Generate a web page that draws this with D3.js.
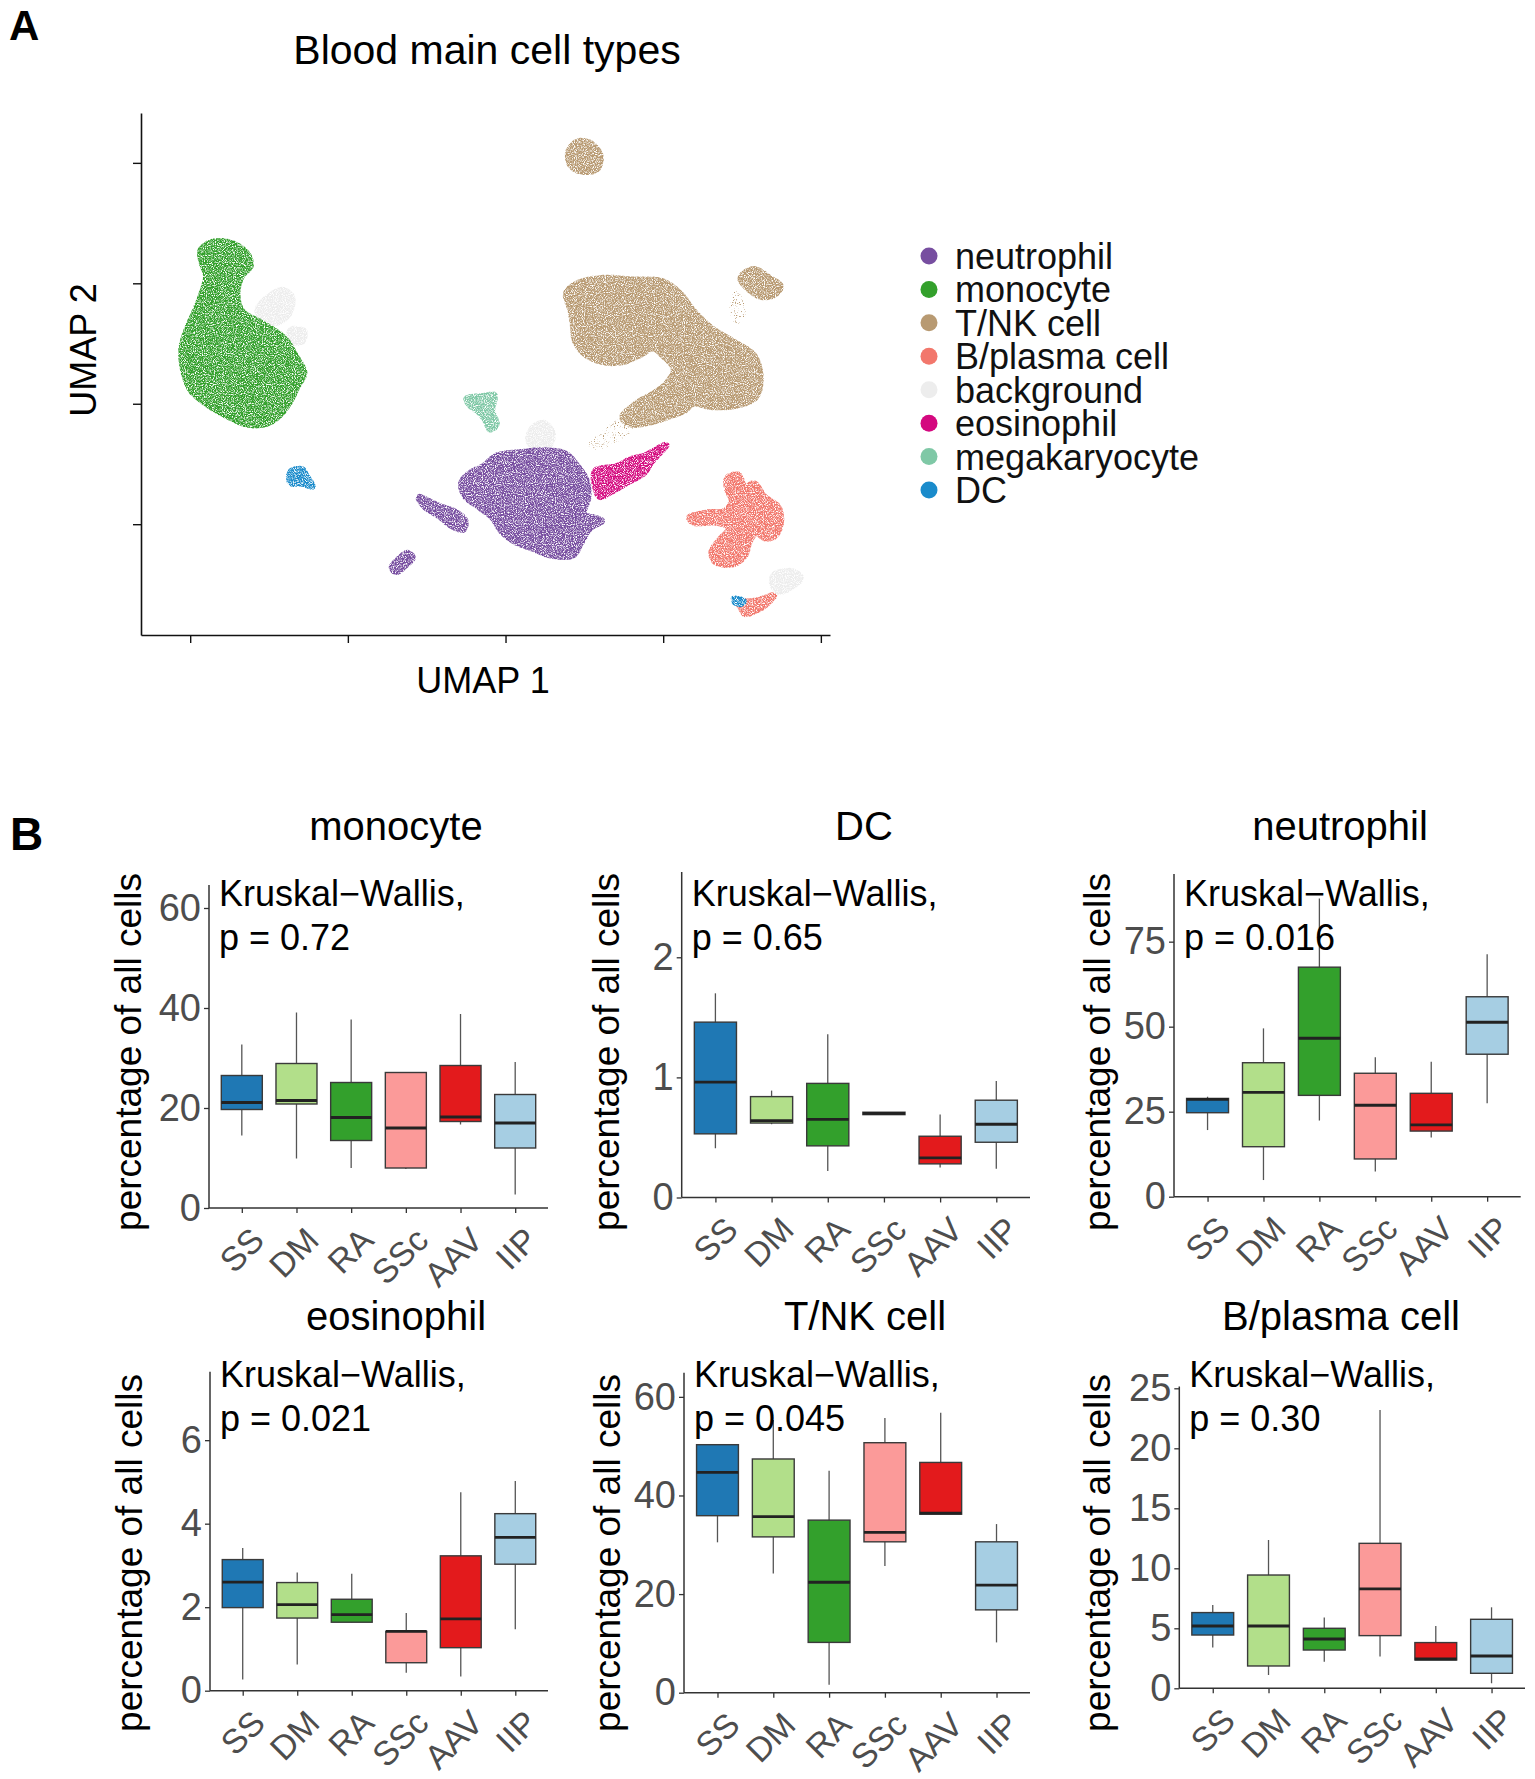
<!DOCTYPE html>
<html><head><meta charset="utf-8">
<script src="https://cdn.jsdelivr.net/npm/d3@7"></script>
<style>
body{margin:0;background:#fff}
text{font-family:"Liberation Sans",Arial,Helvetica,sans-serif}
</style>
</head><body>
<svg id="fig" width="1535" height="1779"></svg>
<script>
// ---------------- DATA ----------------
// Panel A: UMAP cluster outlines (UMAP units)
const cellTypes = ["neutrophil","monocyte","T/NK cell","B/plasma cell","background","eosinophil","megakaryocyte","DC"];
const cellColors = ["#774ea0","#33a02c","#b89a72","#f2776c","#ededed","#d4087f","#7fc8a6","#1a8bcb"];
const umapXTicks = [-5,0,5,10,15];
const umapYTicks = [-5,0,5,10];
const umapClusters = [
  {type:"background", pts:[[-2.65,4.30],[-2.09,4.73],[-1.77,4.44],[-1.87,3.72],[-2.23,3.37],[-2.65,3.44],[-2.87,3.87]]},
  {type:"background", pts:[[-1.80,3.08],[-1.38,3.01],[-1.45,2.58],[-1.87,2.58]]},
  {type:"monocyte", pts:[[-4.28,6.73],[-3.65,6.66],[-3.19,6.23],[-3.08,5.73],[-3.36,5.30],[-3.50,4.58],[-3.36,3.87],[-2.65,3.30],[-2.01,2.72],[-1.66,2.01],[-1.38,1.29],[-1.59,0.72],[-1.87,0.00],[-2.23,-0.57],[-2.65,-0.86],[-3.22,-0.86],[-3.86,-0.50],[-4.50,0.00],[-4.99,0.57],[-5.23,1.43],[-5.28,2.29],[-5.13,3.01],[-4.85,3.87],[-4.64,4.58],[-4.50,5.30],[-4.64,5.87],[-4.67,6.38]]},
  {type:"T/NK cell", pts:[[7.28,10.89],[7.70,10.82],[8.01,10.32],[7.91,9.74],[7.42,9.63],[7.06,9.89],[6.99,10.46]]},
  {type:"T/NK cell", pts:[[6.92,4.58],[7.28,5.01],[8.13,5.23],[8.98,5.16],[9.97,5.09],[10.54,4.58],[10.96,3.87],[11.53,3.15],[12.24,2.58],[12.88,2.01],[13.09,1.15],[12.95,0.29],[12.38,-0.07],[11.53,-0.14],[10.96,0.00],[10.68,-0.29],[10.11,-0.57],[9.55,-0.79],[8.98,-0.86],[8.70,-0.57],[9.12,0.00],[9.69,0.43],[10.11,0.86],[10.33,1.43],[9.97,2.01],[9.69,2.29],[9.26,2.01],[8.70,1.72],[8.13,1.72],[7.56,2.01],[7.21,2.58],[7.13,3.30],[7.06,3.87]]},
  {type:"T/NK cell", pts:[[12.52,5.37],[12.88,5.59],[13.38,5.23],[13.73,4.87],[13.52,4.51],[13.09,4.44],[12.67,4.80],[12.45,5.16]]},
  {type:"megakaryocyte", pts:[[3.76,0.21],[4.30,0.32],[4.65,0.36],[4.58,-0.29],[4.72,-0.86],[4.51,-1.07],[4.37,-0.72],[4.16,-0.36],[3.87,-0.07]]},
  {type:"background", pts:[[5.86,-1.00],[6.21,-0.79],[6.50,-1.22],[6.35,-1.79],[5.93,-1.86],[5.72,-1.50]]},
  {type:"neutrophil", pts:[[4.72,-2.15],[5.43,-2.01],[6.28,-1.93],[6.92,-2.08],[7.28,-2.58],[7.56,-3.15],[7.63,-3.87],[7.49,-4.58],[7.84,-4.73],[8.06,-4.87],[7.70,-5.16],[7.42,-5.73],[7.13,-6.30],[6.43,-6.30],[5.86,-6.02],[5.29,-5.73],[4.87,-5.30],[4.58,-4.73],[4.16,-4.30],[3.73,-3.87],[3.59,-3.30],[3.87,-2.87],[4.30,-2.58]]},
  {type:"neutrophil", pts:[[2.24,-3.87],[2.88,-4.23],[3.45,-4.51],[3.73,-4.87],[3.66,-5.23],[3.30,-5.09],[2.88,-4.66],[2.45,-4.30]]},
  {type:"neutrophil", pts:[[1.89,-6.19],[2.06,-6.38],[1.82,-6.73],[1.53,-6.99],[1.39,-6.81],[1.60,-6.45]]},
  {type:"eosinophil", pts:[[7.84,-2.79],[8.55,-2.58],[8.98,-2.29],[9.40,-2.15],[10.11,-1.69],[9.62,-2.44],[9.40,-2.87],[8.84,-3.30],[8.27,-3.72],[7.99,-3.87],[7.84,-3.44]]},
  {type:"DC", pts:[[-1.80,-2.79],[-1.45,-2.72],[-1.30,-3.01],[-1.12,-3.44],[-1.45,-3.32],[-1.80,-3.30],[-1.87,-3.08]]},
  {type:"background", pts:[[13.52,-7.09],[14.09,-6.95],[14.37,-7.23],[14.09,-7.59],[13.66,-7.81],[13.45,-7.45]]},
  {type:"B/plasma cell", pts:[[12.03,-3.08],[12.38,-2.94],[12.60,-3.44],[12.88,-3.30],[13.23,-3.87],[13.66,-4.30],[13.73,-5.01],[13.52,-5.52],[13.23,-5.59],[12.95,-5.37],[12.74,-5.73],[12.60,-6.30],[12.24,-6.66],[11.67,-6.59],[11.53,-6.16],[11.82,-5.59],[12.10,-5.16],[11.67,-4.94],[10.96,-4.94],[10.82,-4.73],[11.39,-4.51],[11.96,-4.44],[12.17,-4.01],[12.03,-3.58]]},
  {type:"B/plasma cell", pts:[[12.38,-8.24],[12.95,-8.17],[13.52,-7.95],[13.23,-8.38],[12.81,-8.67],[12.60,-8.74],[12.45,-8.45]]},
  {type:"DC", pts:[[12.24,-8.09],[12.55,-8.19],[12.50,-8.31],[12.27,-8.24]]}
];
// sparse fringe regions (lower density scatter)
const umapFringe = [
  {type:"T/NK cell", pts:[[8.70,-0.57],[9.12,-0.90],[8.55,-1.60],[7.90,-1.90],[7.60,-1.70],[8.10,-1.10]]},
  {type:"T/NK cell", pts:[[12.30,4.70],[12.50,4.40],[12.60,3.60],[12.30,3.30],[12.10,3.90]]}
];

// Panel B: box-plot statistics [lower whisker, Q1, median, Q3, upper whisker]
const groups = ["SS","DM","RA","SSc","AAV","IIP"];
const groupColors = ["#1f78b4","#b2df8a","#33a02c","#fb9a99","#e31a1c","#a6cee3"];
const panelNames = ["monocyte","DC","neutrophil","eosinophil","T/NK cell","B/plasma cell"];
const pValues = ["0.72","0.65","0.016","0.021","0.045","0.30"];
const monocyteStats = [[14.5,19.7,21.1,26.5,32.7],[9.9,20.8,21.5,28.9,39.1],[8.0,13.5,18.1,25.1,37.7],[7.8,8.0,16.0,27.1,27.1],[16.7,17.3,18.2,28.5,38.8],[2.7,12.0,17.0,22.7,29.2]];
const dcStats = [[0.41,0.53,0.96,1.46,1.70],[0.61,0.62,0.64,0.84,0.89],[0.22,0.43,0.65,0.95,1.36],[0.69,0.69,0.70,0.71,0.71],[0.25,0.28,0.33,0.51,0.69],[0.24,0.46,0.61,0.81,0.97]];
const neutrophilStats = [[19.6,24.7,28.6,28.9,29.4],[4.9,14.7,30.7,39.4,49.5],[22.4,29.8,46.6,67.5,87.7],[7.4,11.1,26.9,36.3,41.0],[17.4,19.3,21.1,30.4,39.7],[27.5,41.9,51.3,58.8,71.3]];
const eosinophilStats = [[0.27,1.99,2.60,3.14,3.42],[0.63,1.74,2.06,2.59,2.83],[1.64,1.64,1.82,2.19,2.80],[0.43,0.67,1.42,1.42,1.86],[0.34,1.03,1.72,3.23,4.75],[1.47,3.03,3.67,4.24,5.02]];
const tnkStats = [[30.5,35.9,44.7,50.3,50.3],[24.2,31.6,35.7,47.4,55.3],[1.6,10.2,22.4,35.0,45.0],[25.7,30.6,32.5,50.7,55.7],[36.2,36.2,36.4,46.7,56.8],[10.2,16.8,21.8,30.6,34.2]];
const bplasmaStats = [[3.39,4.44,5.19,6.31,6.94],[1.11,1.86,5.19,9.44,12.36],[2.22,3.19,4.11,5.00,5.89],[2.64,4.39,8.28,12.08,23.2],[2.36,2.36,2.44,3.81,5.19],[0.42,1.25,2.69,5.75,6.75]];
const panelStats = [monocyteStats, dcStats, neutrophilStats, eosinophilStats, tnkStats, bplasmaStats];
const panelYMax = [64.6, 2.71, 94.9, 7.64, 64.9, 25.15];
const panelYTicks = [[0,20,40,60],[0,1,2],[0,25,50,75],[0,2,4,6],[0,20,40,60],[0,5,10,15,20,25]];

// ---------------- LAYOUT ----------------
const panelLayout = [
  {left:209,   right:548,    top:885,    bottom:1208,   titleX:396,  titleY:840,  yTitleX:141, yTitleY:1052, kwY:906},
  {left:681.7, right:1030,   top:872,    bottom:1197.5, titleX:864,  titleY:840,  yTitleX:619, yTitleY:1052, kwY:906},
  {left:1174,  right:1520.7, top:874,    bottom:1196.7, titleX:1340, titleY:840,  yTitleX:1110,yTitleY:1052, kwY:906},
  {left:210,   right:548,    top:1371.7, bottom:1690.7, titleX:396,  titleY:1330, yTitleX:142, yTitleY:1553, kwY:1387},
  {left:684,   right:1030,   top:1372.7, bottom:1692.7, titleX:865,  titleY:1330, yTitleX:620, yTitleY:1553, kwY:1387},
  {left:1179.3,right:1525,   top:1386.5, bottom:1688.3, titleX:1341, titleY:1330, yTitleX:1110,yTitleY:1553, kwY:1387}
];

const svg = d3.select("#fig");
svg.append("rect").attr("width",1535).attr("height",1779).attr("fill","#fff");

// grain filters to mimic dense / sparse scatter
const defs = svg.append("defs");
function grain(id, slope, offset, seed){
  const f = defs.append("filter").attr("id",id).attr("x","-10%").attr("y","-10%").attr("width","120%").attr("height","120%");
  f.append("feTurbulence").attr("type","fractalNoise").attr("baseFrequency","0.9").attr("numOctaves","2").attr("seed",seed).attr("result","noise");
  f.append("feColorMatrix").attr("in","noise").attr("type","matrix")
    .attr("values",`0 0 0 0 0  0 0 0 0 0  0 0 0 0 0  0 0 0 ${slope} ${offset}`).attr("result","mask");
  f.append("feComposite").attr("in","SourceGraphic").attr("in2","mask").attr("operator","in");
}
grain("grain",-3.4,2.5,5);
grain("sparse",-6,2.4,9);

// ---------------- PANEL A ----------------
svg.append("text").attr("x",9).attr("y",40).attr("font-size",42).attr("font-weight","bold").text("A");
svg.append("text").attr("x",487).attr("y",64).attr("font-size",41).attr("text-anchor","middle").text("Blood main cell types");

const xU = d3.scaleLinear().domain([-6.56,15.29]).range([141,830]);
const yU = d3.scaleLinear().domain([-9.60,12.07]).range([635,113]);
const colorOf = d3.scaleOrdinal().domain(cellTypes).range(cellColors);

const blob = d3.line().x(d=>xU(d[0])).y(d=>yU(d[1])).curve(d3.curveCatmullRomClosed.alpha(0.5));
svg.append("g").attr("filter","url(#sparse)")
  .selectAll("path").data(umapFringe).join("path")
  .attr("d",d=>blob(d.pts)).attr("fill",d=>colorOf(d.type));
const cl = svg.append("g").attr("filter","url(#grain)");
cl.selectAll("path.core").data(umapClusters).join("path")
  .attr("class","core")
  .attr("d",d=>blob(d.pts))
  .attr("fill",d=>colorOf(d.type))
  .attr("stroke",d=>colorOf(d.type))
  .attr("stroke-width",6)
  .attr("stroke-dasharray","1.5 3.5")
  .attr("stroke-linecap","round");

const axU = svg.append("g").attr("transform","translate(0,635)")
  .call(d3.axisBottom(xU).tickValues(umapXTicks).tickFormat("").tickSize(8).tickSizeOuter(0));
const ayU = svg.append("g").attr("transform","translate(141,0)")
  .call(d3.axisLeft(yU).tickValues(umapYTicks).tickFormat("").tickSize(8).tickSizeOuter(0));
[axU,ayU].forEach(g=>{g.select(".domain").attr("stroke","#111").attr("stroke-width",1.6);
  g.selectAll(".tick line").attr("stroke","#111").attr("stroke-width",1.4);});

svg.append("text").attr("x",483).attr("y",693).attr("font-size",36).attr("text-anchor","middle").text("UMAP 1");
svg.append("text").attr("transform","translate(96,350) rotate(-90)").attr("font-size",36).attr("text-anchor","middle").text("UMAP 2");

// legend
const legendY = d3.scalePoint().domain(cellTypes).range([256,490]);
const lg = svg.append("g");
lg.selectAll("circle").data(cellTypes).join("circle")
  .attr("cx",929).attr("cy",d=>legendY(d)).attr("r",8.5).attr("fill",d=>colorOf(d));
lg.selectAll("text").data(cellTypes).join("text")
  .attr("x",955).attr("y",d=>legendY(d)).attr("dy","0.36em").attr("font-size",36).attr("fill","#111").text(d=>d);

// ---------------- PANEL B ----------------
svg.append("text").attr("x",10).attr("y",850).attr("font-size",46).attr("font-weight","bold").text("B");

panelNames.forEach((name,pi)=>{
  const L = panelLayout[pi];
  const stats = panelStats[pi];
  const g = svg.append("g");
  const x = d3.scalePoint().domain(groups).range([L.left,L.right]).padding(0.6);
  const y = d3.scaleLinear().domain([0,panelYMax[pi]]).range([L.bottom,L.top]);
  const bw = x.step()*0.75;

  // whiskers
  g.selectAll("line.wh").data(stats).join("line").attr("class","wh")
    .attr("x1",(d,i)=>x(groups[i])).attr("x2",(d,i)=>x(groups[i]))
    .attr("y1",d=>y(d[0])).attr("y2",d=>y(d[4]))
    .attr("stroke","#555").attr("stroke-width",1.3);
  // boxes
  g.selectAll("rect.bx").data(stats).join("rect").attr("class","bx")
    .attr("x",(d,i)=>x(groups[i])-bw/2).attr("width",bw)
    .attr("y",d=>y(d[3])).attr("height",d=>Math.max(0.5,y(d[1])-y(d[3])))
    .attr("fill",(d,i)=>groupColors[i]).attr("stroke","#3a3a3a").attr("stroke-width",1.4);
  // medians
  g.selectAll("line.md").data(stats).join("line").attr("class","md")
    .attr("x1",(d,i)=>x(groups[i])-bw/2).attr("x2",(d,i)=>x(groups[i])+bw/2)
    .attr("y1",d=>y(d[2])).attr("y2",d=>y(d[2]))
    .attr("stroke","#222").attr("stroke-width",2.8);

  // axes
  const ax = g.append("g").attr("transform",`translate(0,${L.bottom})`)
    .call(d3.axisBottom(x).tickSize(5).tickSizeOuter(0).tickFormat(""));
  ax.select(".domain").attr("d",`M${L.left},0H${L.right}`);
  const ay = g.append("g").attr("transform",`translate(${L.left},0)`)
    .call(d3.axisLeft(y).tickValues(panelYTicks[pi]).tickSize(5).tickSizeOuter(0).tickFormat(d3.format("d")));
  ay.select(".domain").attr("d",`M0,${L.bottom}V${L.top}`);
  [ax,ay].forEach(a=>{a.select(".domain").attr("stroke","#333").attr("stroke-width",1.5);
    a.selectAll(".tick line").attr("stroke","#333").attr("stroke-width",1.3);});
  ay.selectAll(".tick text").attr("font-size",38).attr("fill","#4d4d4d").attr("x",-8)
    .attr("font-family","'Liberation Sans',Arial,sans-serif");

  // rotated x labels
  g.selectAll("text.xl").data(groups).join("text").attr("class","xl")
    .attr("transform",d=>`translate(${x(d)+7},${L.bottom+17}) rotate(-45)`)
    .attr("text-anchor","end").attr("dy","0.72em")
    .attr("font-size",34).attr("fill","#4d4d4d").text(d=>d);

  // titles
  g.append("text").attr("x",L.titleX).attr("y",L.titleY).attr("text-anchor","middle")
    .attr("font-size",40).attr("fill","#000").text(name);
  g.append("text").attr("transform",`translate(${L.yTitleX},${L.yTitleY}) rotate(-90)`)
    .attr("text-anchor","middle").attr("font-size",37).attr("fill","#000").text("percentage of all cells");

  // Kruskal-Wallis label
  const kw = g.append("text").attr("font-size",36).attr("fill","#000");
  kw.append("tspan").attr("x",L.left+10).attr("y",L.kwY).text("Kruskal\u2212Wallis,");
  kw.append("tspan").attr("x",L.left+10).attr("y",L.kwY+44).text("p = "+pValues[pi]);
});
</script>
</body></html>
